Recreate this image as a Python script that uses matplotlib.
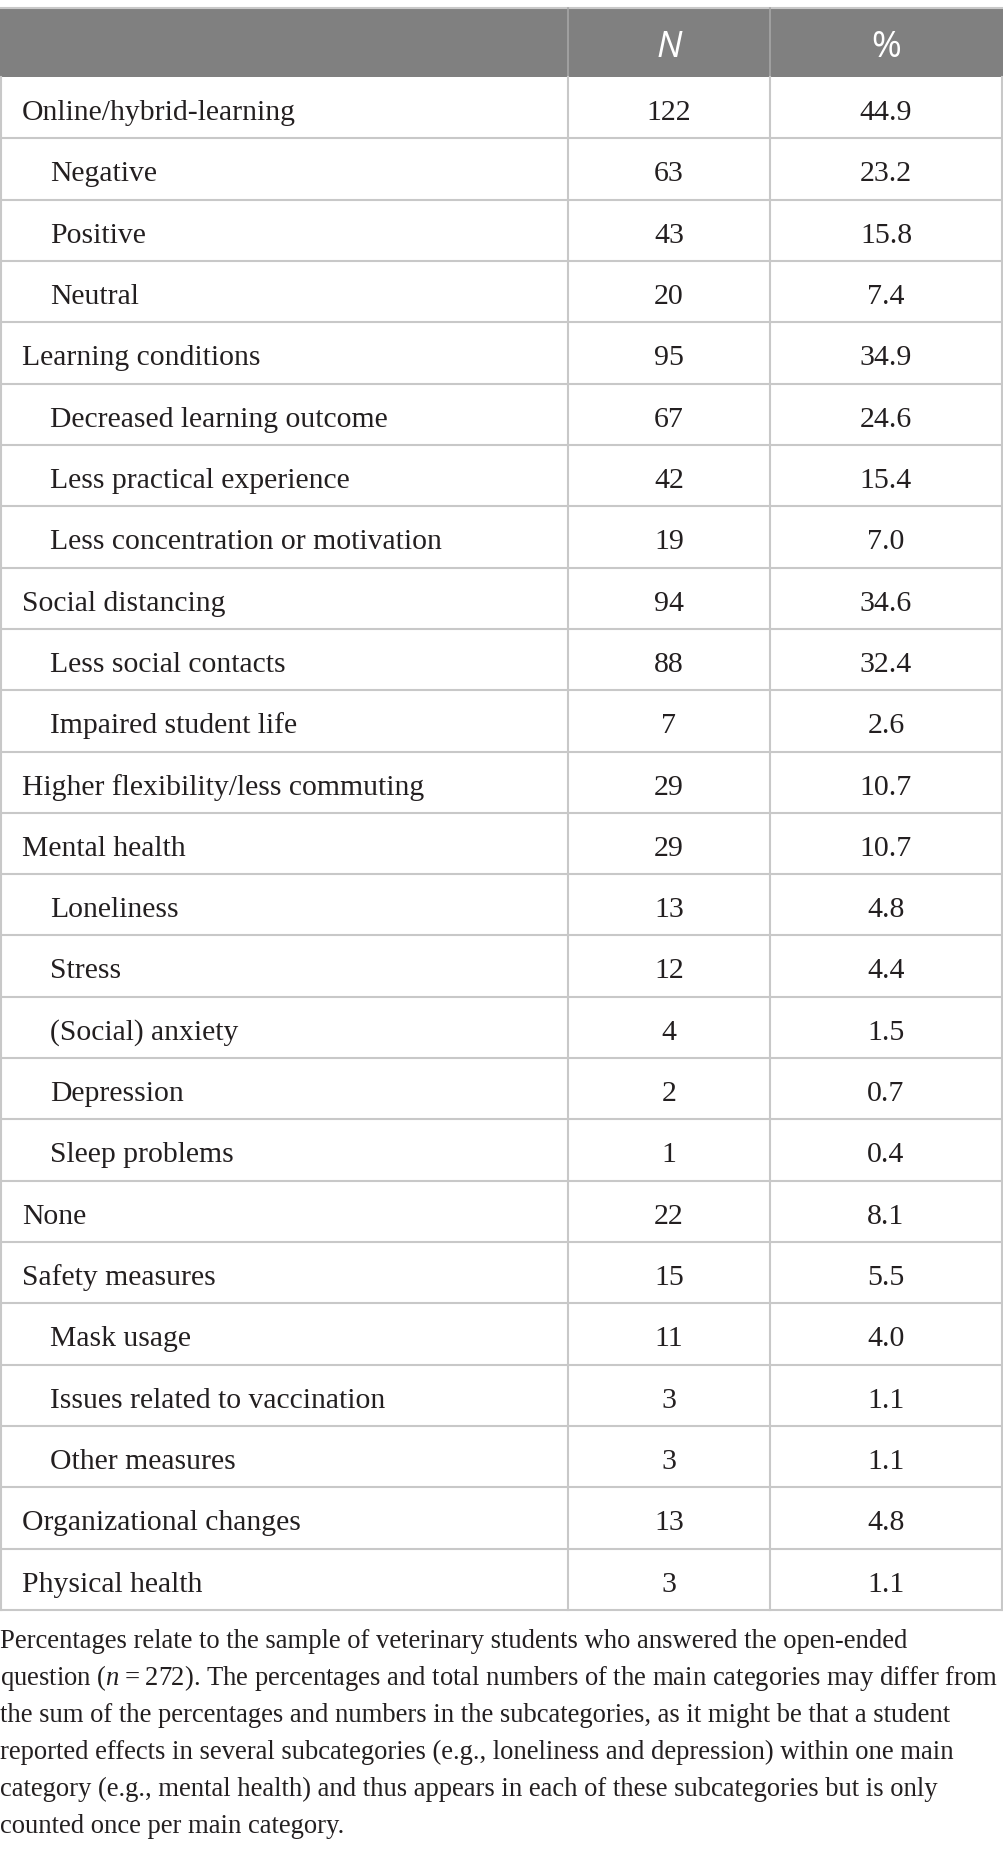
import matplotlib
matplotlib.use("Agg")
import matplotlib.pyplot as plt
from matplotlib.patches import Rectangle

# ---- table content ----
labels = [
    "Online/hybrid-learning", "Negative", "Positive", "Neutral",
    "Learning conditions", "Decreased learning outcome",
    "Less practical experience", "Less concentration or motivation",
    "Social distancing", "Less social contacts", "Impaired student life",
    "Higher flexibility/less commuting",
    "Mental health", "Loneliness", "Stress", "(Social) anxiety",
    "Depression", "Sleep problems",
    "None",
    "Safety measures", "Mask usage", "Issues related to vaccination",
    "Other measures",
    "Organizational changes", "Physical health",
]
is_sub = [0, 1, 1, 1, 0, 1, 1, 1, 0, 1, 1, 0, 0, 1, 1, 1, 1, 1, 0,
          0, 1, 1, 1, 0, 0]
n_values = [122, 63, 43, 20, 95, 67, 42, 19, 94, 88, 7, 29, 29, 13, 12, 4,
            2, 1, 22, 15, 11, 3, 3, 13, 3]
pct_values = [44.9, 23.2, 15.8, 7.4, 34.9, 24.6, 15.4, 7.0, 34.6, 32.4, 2.6,
              10.7, 10.7, 4.8, 4.4, 1.5, 0.7, 0.4, 8.1, 5.5, 4.0, 1.1, 1.1,
              4.8, 1.1]
headers = ["", "N", "%"]

footnote = [
    "Percentages relate to the sample of veterinary students who answered the open-ended",
    "question ($n$\u2009=\u2009272). The percentages and total numbers of the main categories may differ from",
    "the sum of the percentages and numbers in the subcategories, as it might be that a student",
    "reported effects in several subcategories (e.g., loneliness and depression) within one main",
    "category (e.g., mental health) and thus appears in each of these subcategories but is only",
    "counted once per main category.",
]

# ---- style ----
plt.rcParams["mathtext.fontset"] = "custom"
plt.rcParams["mathtext.it"] = "Liberation Serif:italic"
plt.rcParams["mathtext.rm"] = "Liberation Serif"

W, H = 1004, 1855
TEXT = "#231f20"
GRID = "#c8c8c8"
HEAD_BG = "#808080"
SERIF = ["Liberation Serif", "DejaVu Serif"]

fig = plt.figure(figsize=(W / 100, H / 100), dpi=100)
ax = fig.add_axes([0, 0, 1, 1])
ax.set_xlim(0, W)
ax.set_ylim(H, 0)
ax.axis("off")

# column edges and rows (pixel layout)
x_left, x_c1, x_c2, x_right = 1, 568, 770, 1002
head_top, head_bot = 8, 77
table_bot = 1610
row_h = (table_bot - head_bot) / len(labels)

# header band
ax.add_patch(Rectangle((0, head_top), W, head_bot - head_top,
                       facecolor=HEAD_BG, edgecolor="none"))
ax.plot([0, W], [head_top, head_top], color=GRID, lw=1.5)
for xc in (x_c1, x_c2):
    ax.plot([xc, xc], [head_top, head_bot], color="#a6a6a6", lw=1.2)

hx = [None, (x_c1 + x_c2) / 2, (x_c2 + x_right) / 2]
for h, xc in zip(headers, hx):
    if h:
        ax.text(xc, 57, h, ha="center", va="baseline", color="white",
                fontsize=26, family=["Open Sans", "DejaVu Sans"],
                style="italic" if h == "N" else "normal")

# body rows
for i, (lab, sub, nv, pv) in enumerate(zip(labels, is_sub, n_values, pct_values)):
    top = head_bot + i * row_h
    base = top + 43
    ax.text(50 if sub else 22, base, lab, ha="left", va="baseline",
            color=TEXT, fontsize=21.3, family=SERIF)
    ax.text(hx[1], base, str(nv), ha="center", va="baseline",
            color=TEXT, fontsize=21.5, family=SERIF)
    ax.text(hx[2], base, f"{pv:.1f}", ha="center", va="baseline",
            color=TEXT, fontsize=21.5, family=SERIF)
    ax.plot([x_left, x_right], [top + row_h, top + row_h], color=GRID, lw=1.5)

for xc in (x_left, x_c1, x_c2, x_right):
    ax.plot([xc, xc], [head_bot, table_bot], color=GRID, lw=1.5)

# footnote
for j, line in enumerate(footnote):
    ax.text(0, 1648 + j * 37, line, ha="left", va="baseline",
            color=TEXT, fontsize=19.2, family=SERIF)

fig.savefig("out.png", dpi=100, facecolor="white")
